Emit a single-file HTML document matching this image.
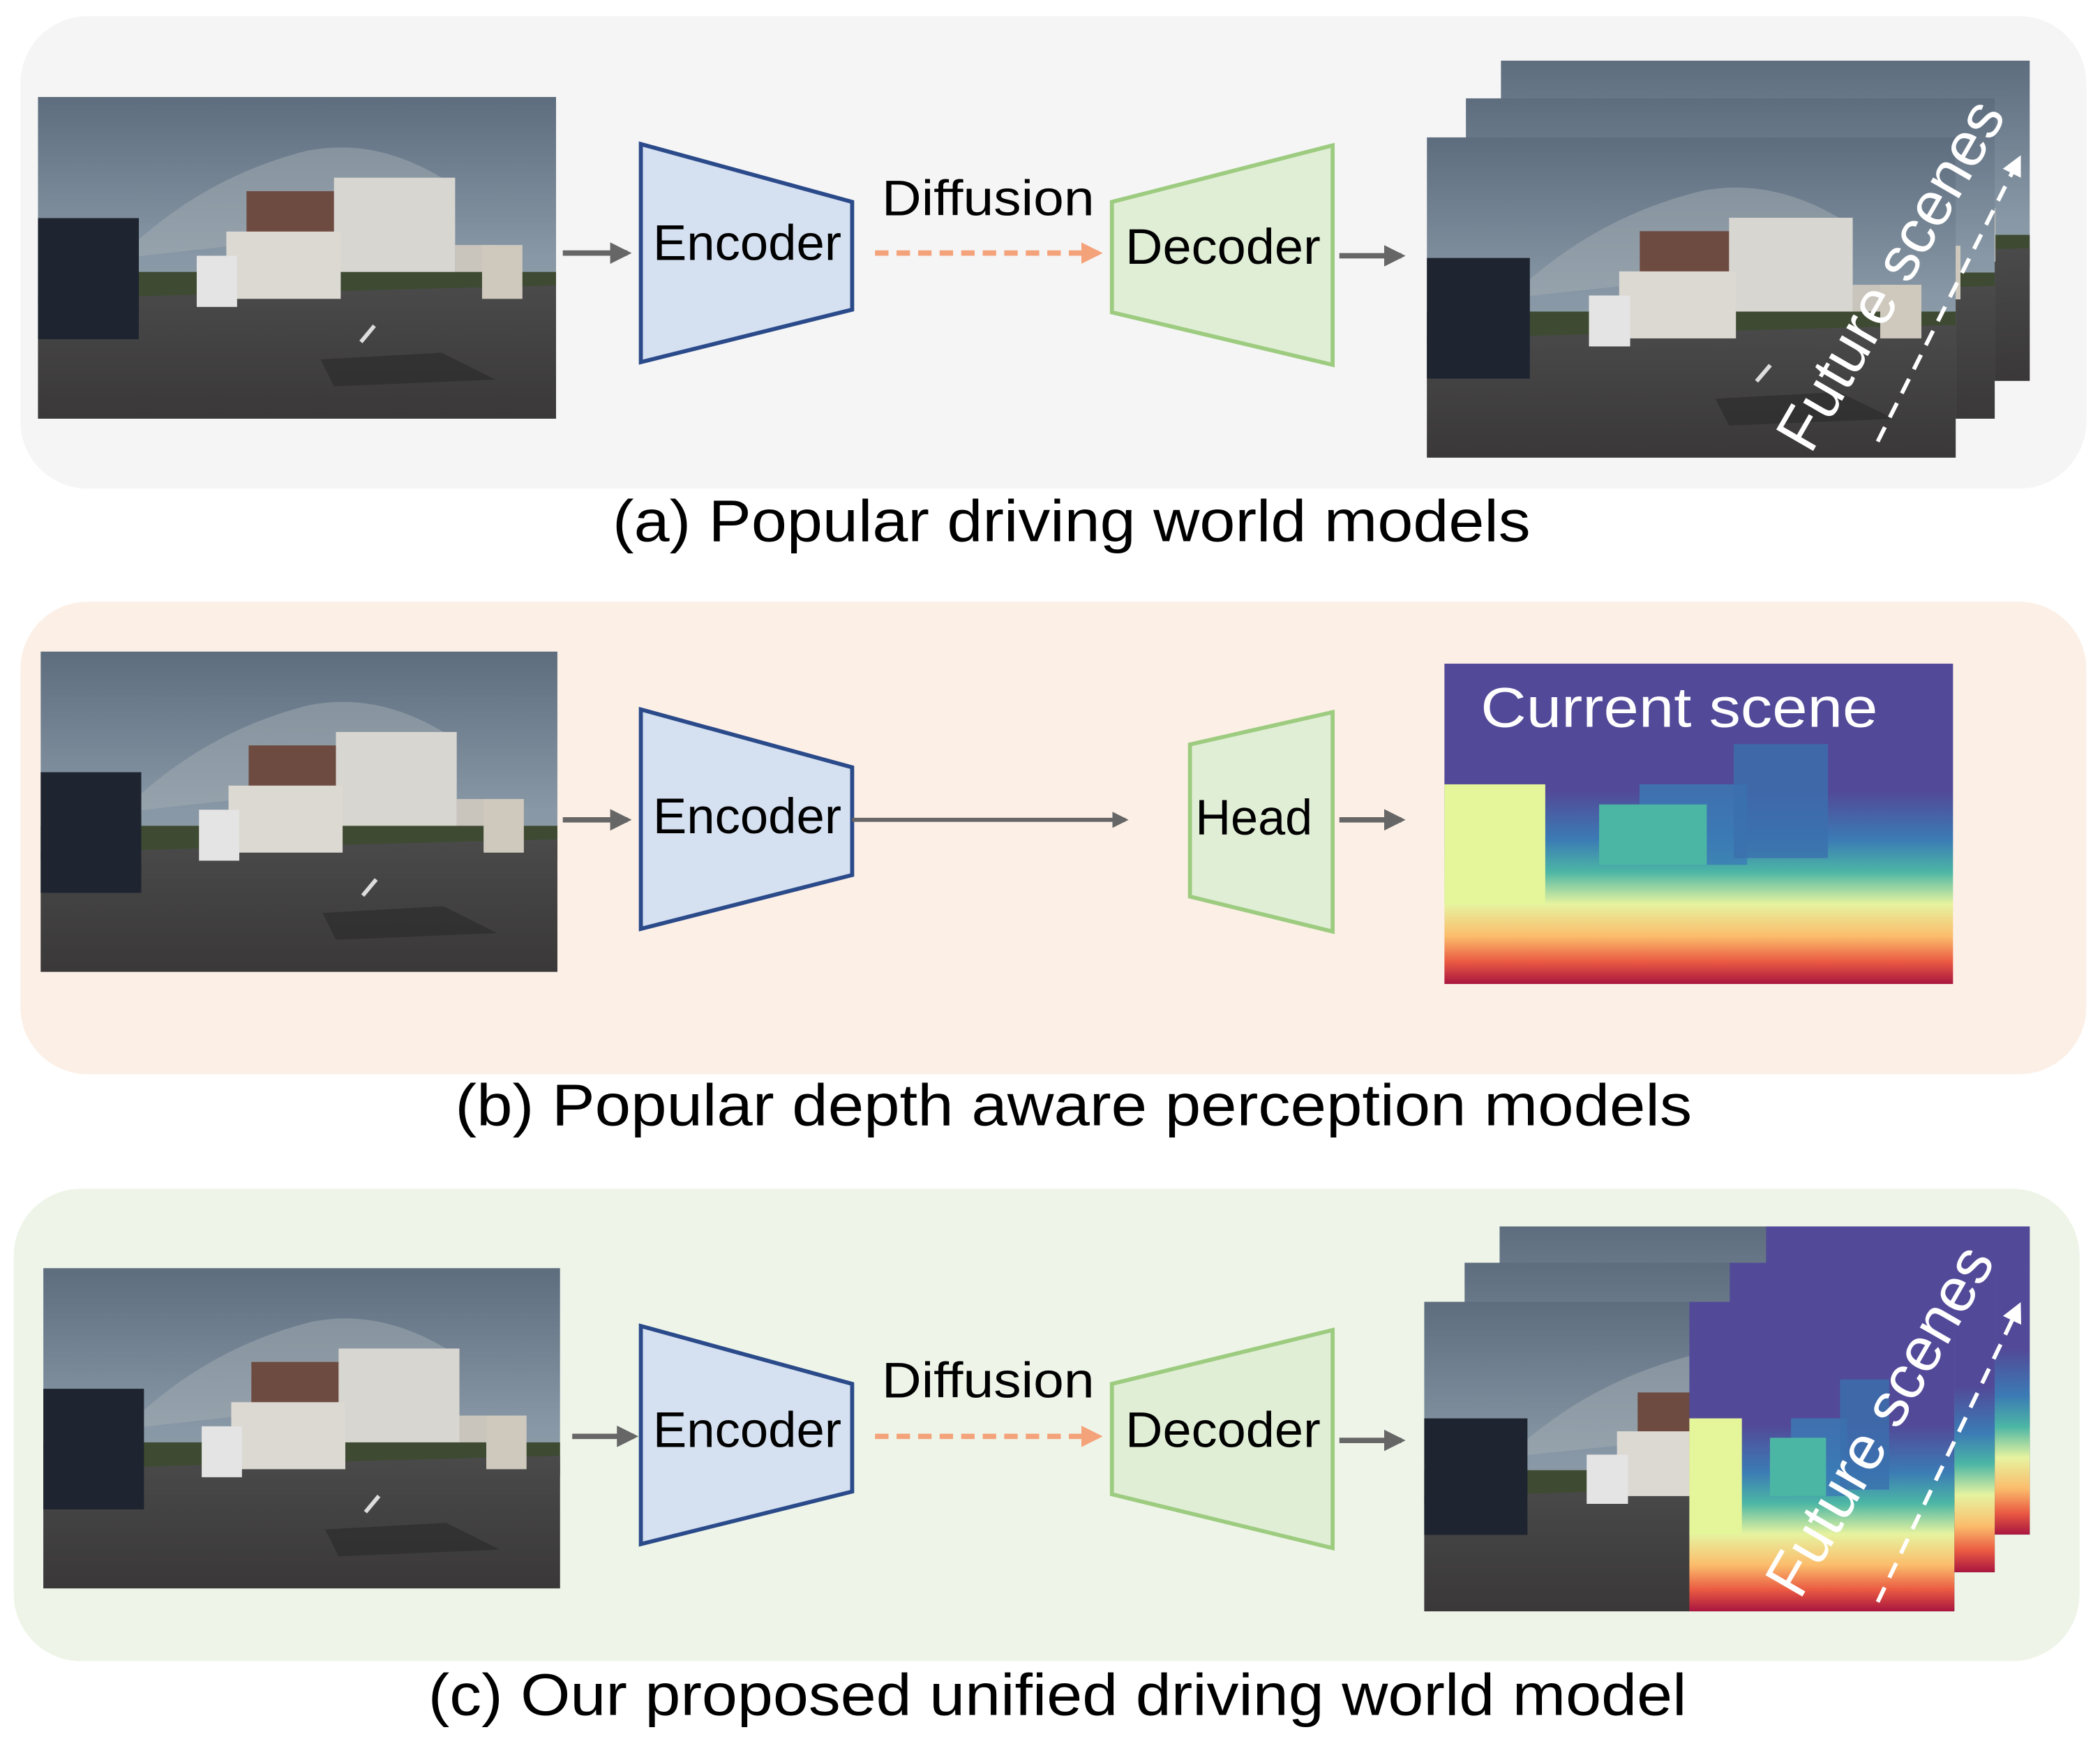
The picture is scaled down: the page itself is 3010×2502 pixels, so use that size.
<!DOCTYPE html>
<html><head><meta charset="utf-8"><style>
html,body{margin:0;padding:0;background:#fff;}
svg{display:block;}
text{font-family:"Liberation Sans",sans-serif;}
</style></head><body>
<svg width="3010" height="2502" viewBox="0 0 1560 1297" xmlns="http://www.w3.org/2000/svg">
<defs>
  <linearGradient id="sky" x1="0" y1="0" x2="0" y2="1">
    <stop offset="0" stop-color="#5d6d7e"/><stop offset="0.5" stop-color="#8898a6"/><stop offset="1" stop-color="#9aa3a8"/>
  </linearGradient>
  <linearGradient id="road" x1="0" y1="0" x2="0" y2="1">
    <stop offset="0" stop-color="#4a4a4a"/><stop offset="1" stop-color="#3a3838"/>
  </linearGradient>
  <linearGradient id="depth" x1="0" y1="0" x2="0" y2="1">
    <stop offset="0" stop-color="#524a98"/><stop offset="0.4" stop-color="#524a98"/>
    <stop offset="0.55" stop-color="#3b7bb5"/><stop offset="0.65" stop-color="#4cb6a5"/>
    <stop offset="0.75" stop-color="#e6f3a0"/><stop offset="0.85" stop-color="#fbbd6c"/>
    <stop offset="0.93" stop-color="#ea5a42"/><stop offset="1" stop-color="#a8153f"/>
  </linearGradient>
  <symbol id="photo" viewBox="0 0 385 239" preserveAspectRatio="none">
    <rect width="385" height="239" fill="url(#sky)"/>
    <path d="M60 120 Q120 60 200 40 Q250 30 300 60 L280 80 Q220 70 150 110 Z" fill="#a4adb4" opacity="0.5"/>
    <rect x="155" y="70" width="65" height="80" fill="#6e4b40"/>
    <rect x="220" y="60" width="90" height="95" fill="#d8d6d0"/>
    <rect x="310" y="110" width="30" height="40" fill="#c9c5bd"/>
    <rect x="0" y="130" width="385" height="25" fill="#3e4a32"/>
    <polygon points="0,150 385,140 385,239 0,239" fill="url(#road)"/>
    <rect x="140" y="100" width="85" height="50" fill="#dcd8d2"/>
    <rect x="118" y="118" width="30" height="38" fill="#e4e4e4"/>
    <rect x="0" y="90" width="75" height="90" fill="#1f2530"/>
    <rect x="330" y="110" width="30" height="40" fill="#cfc9bd"/>
    <line x1="250" y1="170" x2="240" y2="182" stroke="#ddd" stroke-width="3"/>
    <polygon points="210,195 300,190 340,210 220,215" fill="#2a2a2a" opacity="0.6"/>
  </symbol>
  <symbol id="depthmap" viewBox="0 0 378 239" preserveAspectRatio="none">
    <rect width="378" height="239" fill="url(#depth)"/>
    <rect x="145" y="90" width="80" height="60" fill="#3b7bb5" opacity="0.8"/>
    <rect x="215" y="60" width="70" height="85" fill="#3b6fae" opacity="0.8"/>
    <rect x="0" y="90" width="75" height="90" fill="#e4f59a"/>
    <rect x="115" y="105" width="80" height="45" fill="#4cb6a5"/>
  </symbol>
  <marker id="ah" viewBox="0 0 10 10" refX="8" refY="5" markerWidth="4" markerHeight="4" orient="auto"><path d="M0 0 L10 5 L0 10 Z" fill="#666"/></marker>
  <marker id="ao" viewBox="0 0 10 10" refX="8" refY="5" markerWidth="4" markerHeight="4" orient="auto"><path d="M0 0 L10 5 L0 10 Z" fill="#f4a27a"/></marker>
  <marker id="aw" viewBox="0 0 10 10" refX="8" refY="5" markerWidth="5" markerHeight="5" orient="auto"><path d="M0 0 L10 5 L0 10 Z" fill="#fff"/></marker>
</defs>

<!-- Panel A -->
<g>
  <rect x="15" y="12" width="1535" height="351" rx="50" fill="#f5f5f5"/>
  <use href="#photo" x="28" y="72" width="385" height="239"/>
  <line x1="418" y1="188" x2="466" y2="188" stroke="#666" stroke-width="4" marker-end="url(#ah)"/>
  <polygon points="476,107 633,150 633,230 476,269" fill="#d5e0f0" stroke="#2a4a8a" stroke-width="3"/>
  <text x="485" y="193" font-size="37" textLength="140" lengthAdjust="spacingAndGlyphs">Encoder</text>
  <text x="655" y="160" font-size="37" textLength="158" lengthAdjust="spacingAndGlyphs">Diffusion</text>
  <line x1="650" y1="188" x2="816" y2="188" stroke="#f4a27a" stroke-width="4" stroke-dasharray="10,6" marker-end="url(#ao)"/>
  <polygon points="826,150 990,108 990,271 826,232" fill="#e0eed6" stroke="#9dcc80" stroke-width="3"/>
  <text x="836" y="196" font-size="37" textLength="145" lengthAdjust="spacingAndGlyphs">Decoder</text>
  <line x1="995" y1="190" x2="1041" y2="190" stroke="#666" stroke-width="4" marker-end="url(#ah)"/>
  <use href="#photo" x="1115" y="45" width="393" height="238"/>
  <use href="#photo" x="1089" y="73" width="393" height="238"/>
  <use href="#photo" x="1060" y="102" width="393" height="238"/>
  <line x1="1395" y1="328" x2="1500" y2="118" stroke="#fff" stroke-width="3" stroke-dasharray="12,8" marker-end="url(#aw)"/>
  <text transform="translate(1418,212) rotate(-60)" font-size="46" fill="#fff" text-anchor="middle">Future scenes</text>
  <text x="455" y="402" font-size="44" textLength="682" lengthAdjust="spacingAndGlyphs">(a) Popular driving world models</text>
</g>

<!-- Panel B -->
<g>
  <rect x="15" y="447" width="1535" height="351" rx="50" fill="#fcefe6"/>
  <use href="#photo" x="30" y="484" width="384" height="238"/>
  <line x1="418" y1="609" x2="466" y2="609" stroke="#666" stroke-width="4" marker-end="url(#ah)"/>
  <polygon points="476,527 633,570 633,650 476,690" fill="#d5e0f0" stroke="#2a4a8a" stroke-width="3"/>
  <text x="485" y="619" font-size="37" textLength="140" lengthAdjust="spacingAndGlyphs">Encoder</text>
  <line x1="633" y1="609" x2="836" y2="609" stroke="#666" stroke-width="3" marker-end="url(#ah)"/>
  <polygon points="884,553 990,529 990,692 884,666" fill="#e0eed6" stroke="#9dcc80" stroke-width="3"/>
  <text x="888" y="620" font-size="37" textLength="87" lengthAdjust="spacingAndGlyphs">Head</text>
  <line x1="995" y1="609" x2="1041" y2="609" stroke="#666" stroke-width="4" marker-end="url(#ah)"/>
  <use href="#depthmap" x="1073" y="493" width="378" height="238"/>
  <text x="1100" y="540" font-size="42" fill="#fff" textLength="295" lengthAdjust="spacingAndGlyphs">Current scene</text>
  <text x="338" y="836" font-size="44" textLength="919" lengthAdjust="spacingAndGlyphs">(b) Popular depth aware perception models</text>
</g>

<!-- Panel C -->
<g>
  <rect x="10" y="883" width="1535" height="351" rx="50" fill="#eef5e8"/>
  <use href="#photo" x="32" y="942" width="384" height="238"/>
  <line x1="425" y1="1067" x2="471" y2="1067" stroke="#666" stroke-width="4" marker-end="url(#ah)"/>
  <polygon points="476,985 633,1028 633,1108 476,1147" fill="#d5e0f0" stroke="#2a4a8a" stroke-width="3"/>
  <text x="485" y="1075" font-size="37" textLength="140" lengthAdjust="spacingAndGlyphs">Encoder</text>
  <text x="655" y="1038" font-size="37" textLength="158" lengthAdjust="spacingAndGlyphs">Diffusion</text>
  <line x1="650" y1="1067" x2="816" y2="1067" stroke="#f4a27a" stroke-width="4" stroke-dasharray="10,6" marker-end="url(#ao)"/>
  <polygon points="826,1028 990,988 990,1150 826,1110" fill="#e0eed6" stroke="#9dcc80" stroke-width="3"/>
  <text x="836" y="1075" font-size="37" textLength="145" lengthAdjust="spacingAndGlyphs">Decoder</text>
  <line x1="995" y1="1070" x2="1041" y2="1070" stroke="#666" stroke-width="4" marker-end="url(#ah)"/>
  <use href="#photo" x="1114" y="911" width="394" height="229"/>
  <use href="#depthmap" x="1312" y="911" width="196" height="229"/>
  <use href="#photo" x="1088" y="938" width="394" height="230"/>
  <use href="#depthmap" x="1285" y="938" width="197" height="230"/>
  <use href="#photo" x="1058" y="967" width="394" height="230"/>
  <use href="#depthmap" x="1255" y="967" width="197" height="230"/>
  <line x1="1395" y1="1190" x2="1500" y2="970" stroke="#fff" stroke-width="3" stroke-dasharray="12,8" marker-end="url(#aw)"/>
  <text transform="translate(1410,1063) rotate(-60)" font-size="46" fill="#fff" text-anchor="middle">Future scenes</text>
  <text x="318" y="1274" font-size="44" textLength="935" lengthAdjust="spacingAndGlyphs">(c) Our proposed unified driving world model</text>
</g>
</svg>
</body></html>
